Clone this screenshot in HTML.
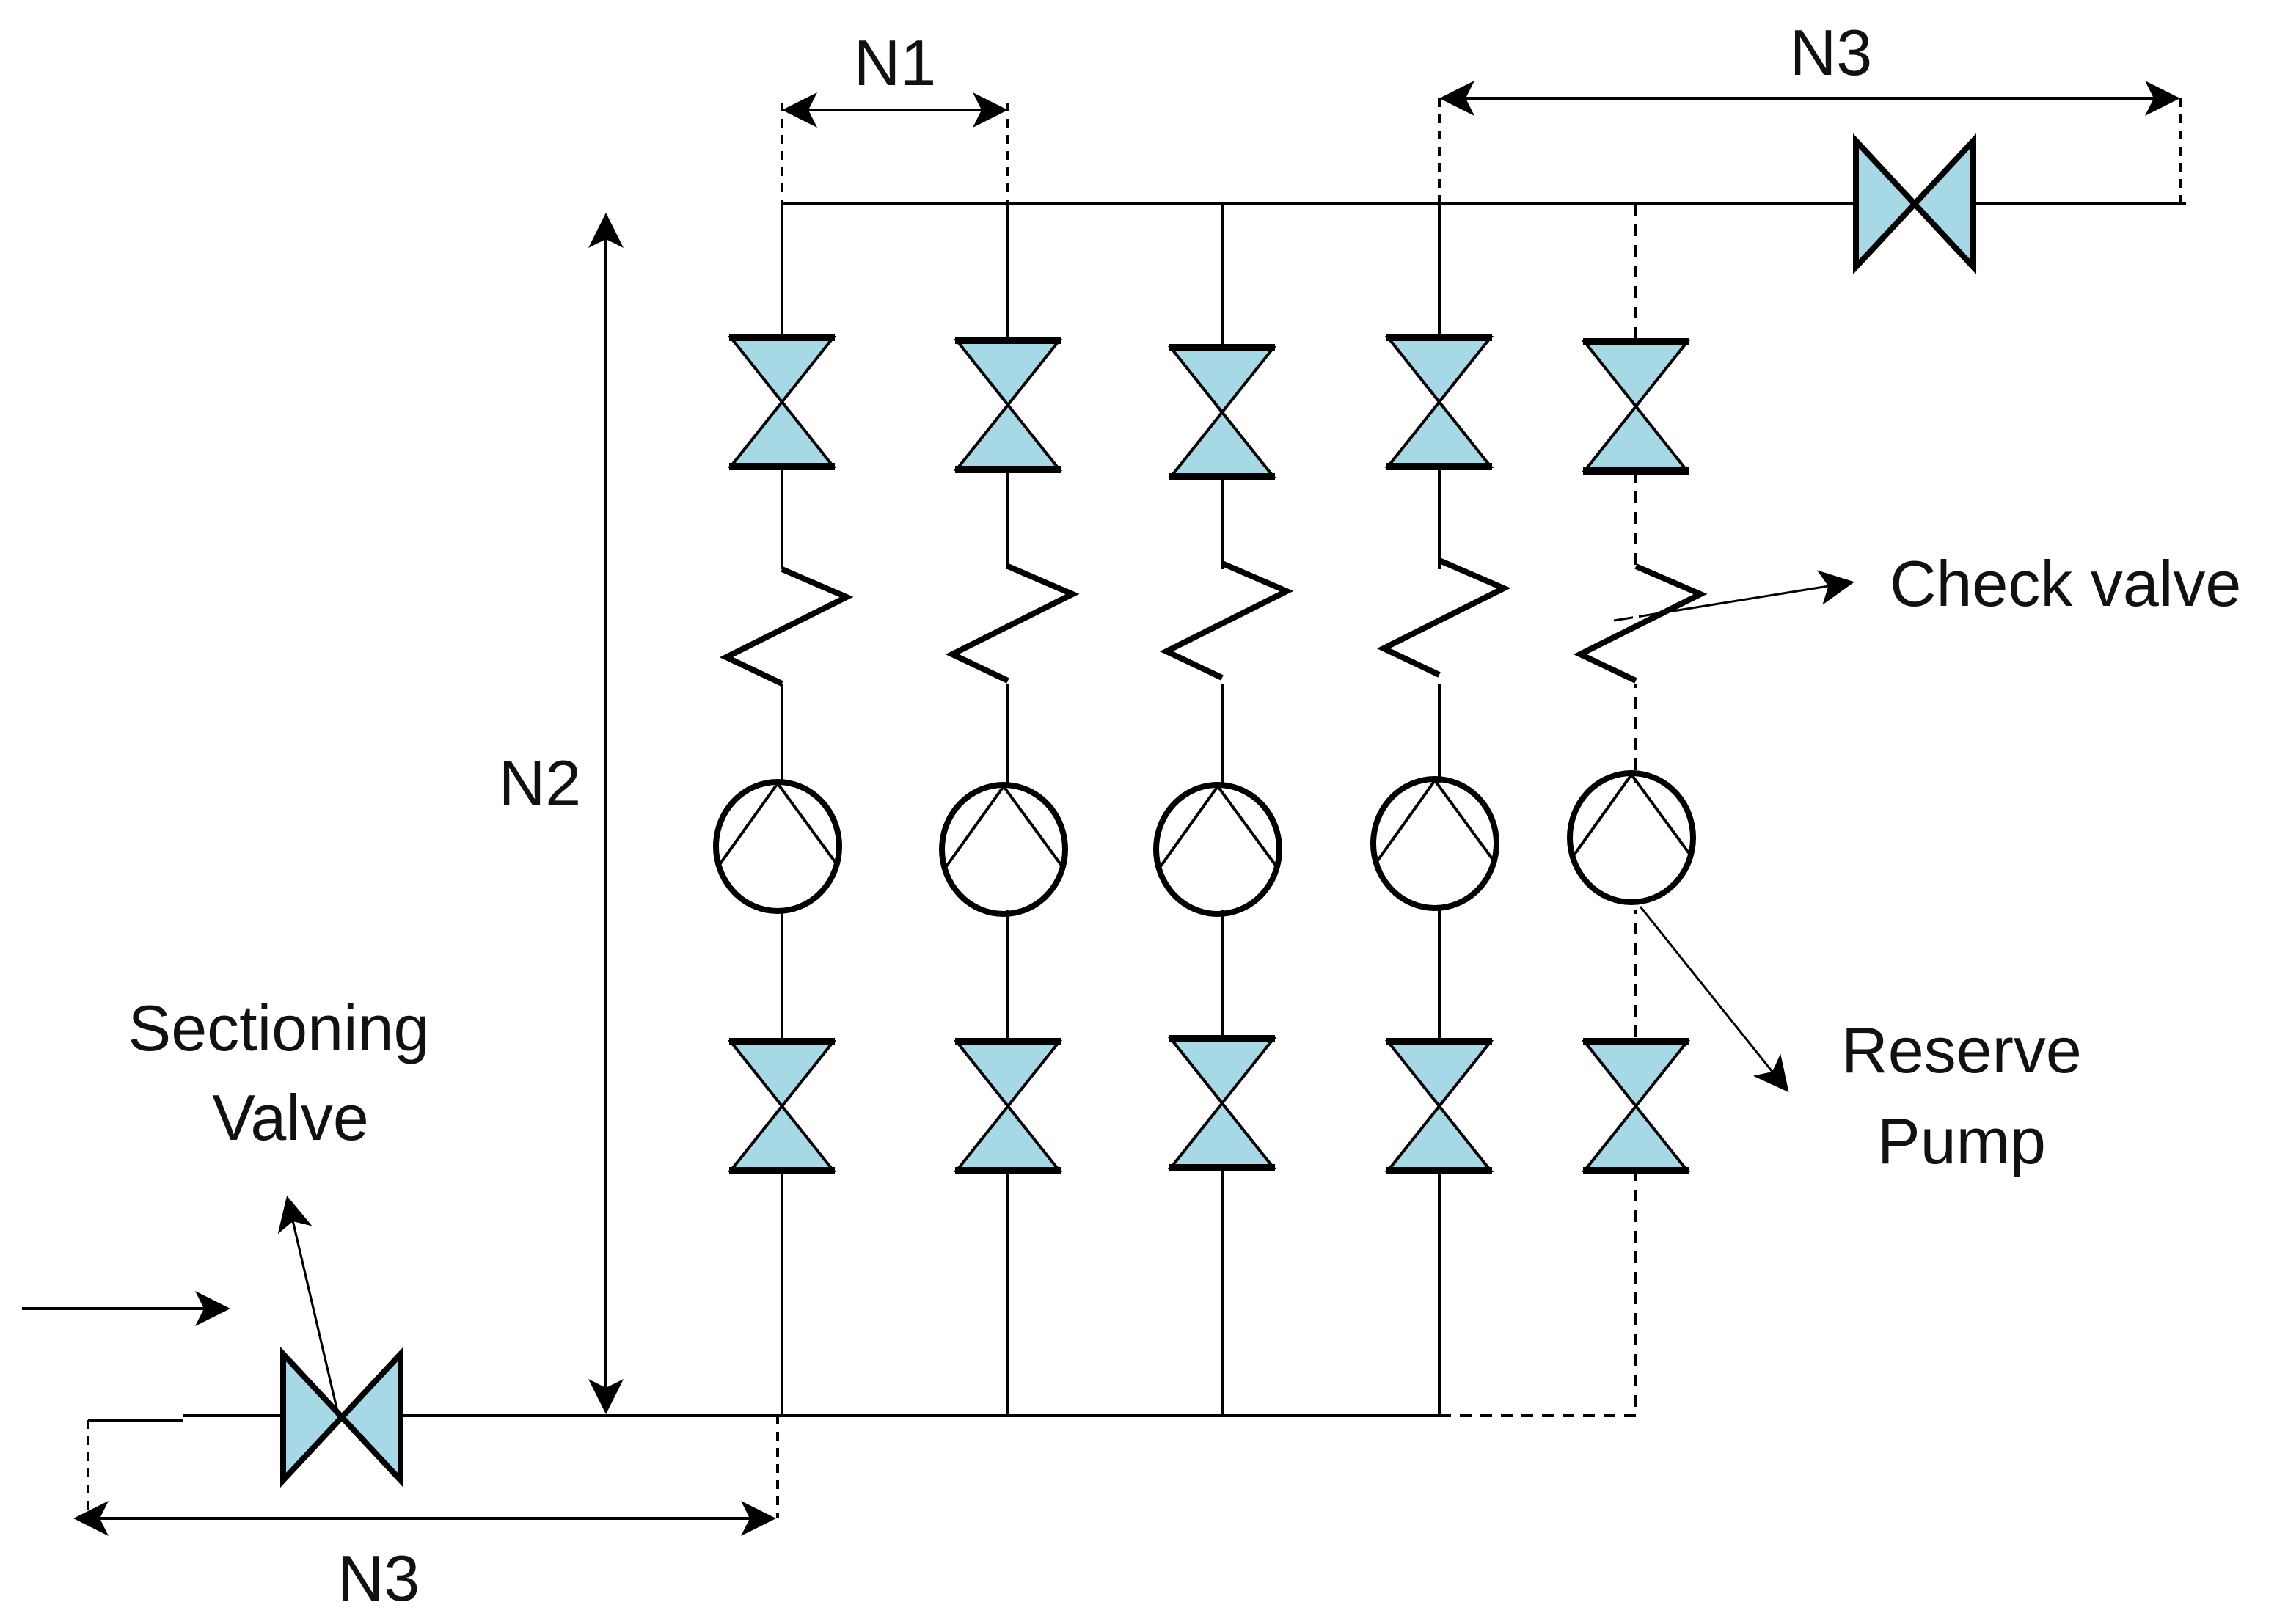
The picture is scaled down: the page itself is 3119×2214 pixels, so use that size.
<!DOCTYPE html>
<html><head><meta charset="utf-8"><style>
html,body{margin:0;padding:0;background:#fff;}
svg{display:block;}
text{font-family:"Liberation Sans","DejaVu Sans",sans-serif;font-size:44px;fill:#111;}
</style></head><body>
<svg width="3119" height="2214" viewBox="0 0 1559.5 1107" xmlns="http://www.w3.org/2000/svg">
<defs>
<marker id="a" viewBox="0 0 12 12" refX="11" refY="6" markerWidth="8" markerHeight="8" orient="auto-start-reverse" markerUnits="userSpaceOnUse">
<path d="M0,0 L12,6 L0,12 L3,6 z" fill="#000"/></marker>
<marker id="b" viewBox="0 0 12 12" refX="11" refY="6" markerWidth="24" markerHeight="24" orient="auto-start-reverse" markerUnits="userSpaceOnUse">
<path d="M0,0 L12,6 L0,12 L3,6 z" fill="#000"/></marker>
<g id="vv">
<polygon points="-35,0 35,0 0,44" fill="#a6d8e6" stroke="#000" stroke-width="2"/>
<polygon points="-35,88 35,88 0,44" fill="#a6d8e6" stroke="#000" stroke-width="2"/>
<line x1="-36" y1="0" x2="36" y2="0" stroke="#000" stroke-width="5"/>
<line x1="-36" y1="88" x2="36" y2="88" stroke="#000" stroke-width="5"/>
</g>
<g id="vh">
<polygon points="0,-43 0,43 40,0" fill="#a6d8e6" stroke="#000" stroke-width="4"/>
<polygon points="80,-43 80,43 40,0" fill="#a6d8e6" stroke="#000" stroke-width="4"/>
</g>
<g id="ck" fill="none" stroke="#000" stroke-width="4">
<polyline points="0,388 44,407 -38,448 0,466"/>
</g>
<g id="pm" fill="none" stroke="#000">
<ellipse cx="-3" cy="577" rx="42" ry="44" stroke-width="4"/>
<polyline points="-43,590 -3,534 38,590" stroke-width="2"/>
</g>
</defs>
<g stroke="#000" stroke-width="2" fill="none">
<!-- headers -->
<line x1="533" y1="139" x2="1265" y2="139"/>
<line x1="1345" y1="139" x2="1490" y2="139"/>
<line x1="125" y1="965" x2="981" y2="965"/>
<line x1="60" y1="968" x2="125" y2="968"/>
<line x1="981" y1="965" x2="1115" y2="965" stroke-dasharray="8,6"/>
<!-- columns -->
<line x1="533" y1="139" x2="533" y2="965"/>
<line x1="687" y1="139" x2="687" y2="965"/>
<line x1="833" y1="139" x2="833" y2="965"/>
<line x1="981" y1="139" x2="981" y2="965"/>
<line x1="1115" y1="139" x2="1115" y2="965" stroke-dasharray="8,6"/>
<!-- dashed dimension guides -->
<line x1="533" y1="70" x2="533" y2="139" stroke-dasharray="6,5"/>
<line x1="687" y1="70" x2="687" y2="139" stroke-dasharray="6,5"/>
<line x1="981" y1="67" x2="981" y2="139" stroke-dasharray="6,5"/>
<line x1="1486" y1="67" x2="1486" y2="139" stroke-dasharray="6,5"/>
<line x1="60" y1="968" x2="60" y2="1032" stroke-dasharray="6,5"/>
<line x1="530" y1="965" x2="530" y2="1035" stroke-dasharray="6,5"/>
<!-- dimension arrows -->
<line x1="535" y1="75" x2="685" y2="75" marker-start="url(#b)" marker-end="url(#b)"/>
<line x1="983" y1="67" x2="1484" y2="67" marker-start="url(#b)" marker-end="url(#b)"/>
<line x1="413" y1="147" x2="413" y2="962" marker-start="url(#b)" marker-end="url(#b)"/>
<line x1="52" y1="1035" x2="527" y2="1035" marker-start="url(#b)" marker-end="url(#b)"/>
<line x1="15" y1="892" x2="155" y2="892" marker-end="url(#b)"/>
<!-- annotation arrows -->
<line x1="230" y1="962" x2="196" y2="817" stroke-width="1.5" marker-end="url(#b)"/>
<line x1="1100" y1="423" x2="1262" y2="397" stroke-width="1.5" marker-end="url(#b)"/>
<line x1="1118" y1="618" x2="1218" y2="743" stroke-width="1.5" marker-end="url(#b)"/>
</g>
<!-- white gaps for check valve/pump segments -->
<g stroke="#fff" stroke-width="4">
<line x1="533" y1="388" x2="533" y2="466"/><line x1="533" y1="534" x2="533" y2="620"/>
<line x1="687" y1="388" x2="687" y2="466"/><line x1="687" y1="534" x2="687" y2="620"/>
<line x1="833" y1="388" x2="833" y2="466"/><line x1="833" y1="534" x2="833" y2="620"/>
<line x1="981" y1="388" x2="981" y2="466"/><line x1="981" y1="534" x2="981" y2="620"/>
<line x1="1115" y1="388" x2="1115" y2="466"/><line x1="1115" y1="534" x2="1115" y2="620"/>
</g>
<use href="#vv" x="533" y="230"/><use href="#vv" x="687" y="232"/><use href="#vv" x="833" y="237"/><use href="#vv" x="981" y="230"/><use href="#vv" x="1115" y="233"/>
<use href="#vv" x="533" y="710"/><use href="#vv" x="687" y="710"/><use href="#vv" x="833" y="708"/><use href="#vv" x="981" y="710"/><use href="#vv" x="1115" y="710"/>
<use href="#ck" x="533" y="0"/><use href="#ck" x="687" y="-2"/><use href="#ck" x="833" y="-4"/><use href="#ck" x="981" y="-6"/><use href="#ck" x="1115" y="-2"/>
<use href="#pm" x="533" y="0"/><use href="#pm" x="687" y="2"/><use href="#pm" x="833" y="2"/><use href="#pm" x="981" y="-2"/><use href="#pm" x="1115" y="-6"/>
<use href="#vh" x="193" y="966"/>
<use href="#vh" x="1265" y="139"/>
<line x1="230" y1="962" x2="196" y2="817" stroke="#000" stroke-width="1.5"/>
<text x="610" y="58" text-anchor="middle">N1</text>
<text x="1248" y="51" text-anchor="middle">N3</text>
<text x="368" y="549" text-anchor="middle">N2</text>
<text x="258" y="1091" text-anchor="middle">N3</text>
<text x="1288" y="413">Check valve</text>
<text x="1337" y="731" text-anchor="middle">Reserve</text>
<text x="1337" y="793" text-anchor="middle">Pump</text>
<text x="190" y="716" text-anchor="middle">Sectioning</text>
<text x="198" y="777" text-anchor="middle">Valve</text>
</svg>
</body></html>
